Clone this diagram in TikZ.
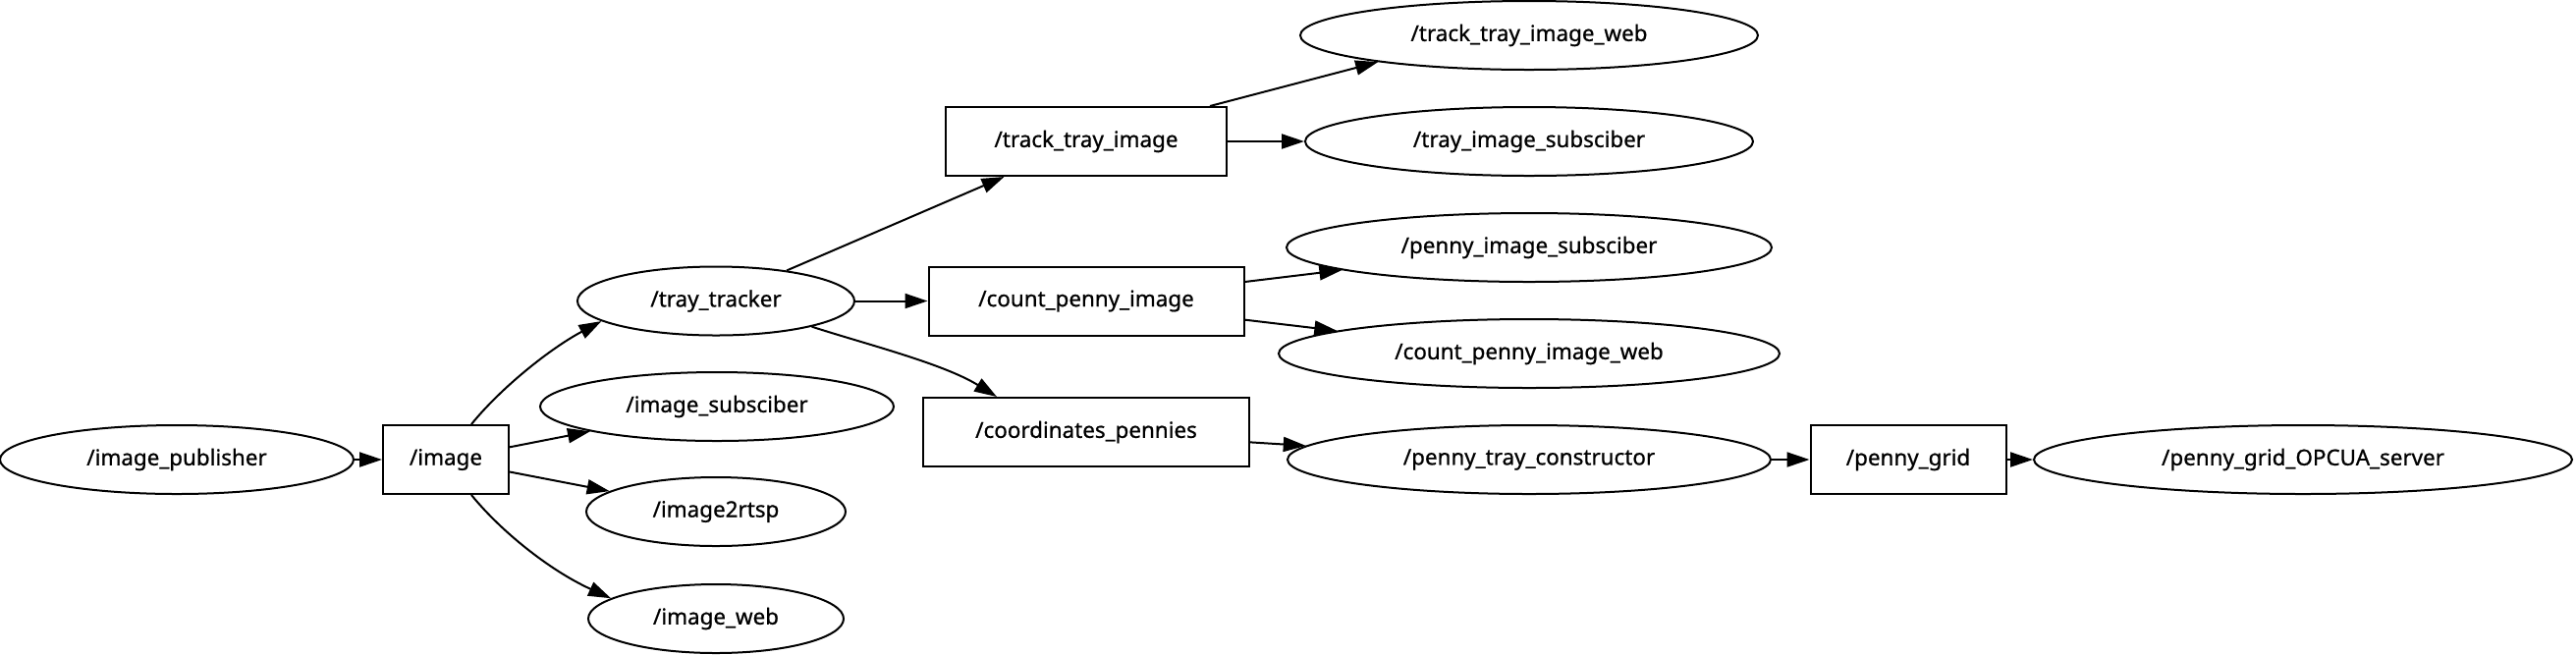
\documentclass[tikz,border=0pt]{standalone}
\usepackage{fontspec}
\setmainfont[FakeBold=0.8]{Noto Sans}
\usetikzlibrary{shapes.geometric,arrows.meta}
\begin{document}
\begin{tikzpicture}[x=0.5pt,y=-0.5pt,
 every node/.style={font=\fontsize{11.2}{13}\selectfont\bfseries, draw, line width=1pt, inner sep=0pt, minimum height=35pt},
 ell/.style={ellipse},
 box/.style={rectangle},
 arr/.style={-{Triangle[length=11.5pt,width=7.5pt]}, line width=1pt}]
\useasboundingbox (0,0) rectangle (2623,666);
\node[ell, minimum width=180pt] (pub) at (180,468) {/image\_publisher};
\node[box, minimum width=64pt] (img) at (454,468) {/image};
\node[ell, minimum width=141pt] (tt) at (729,306.5) {/tray\_tracker};
\node[ell, minimum width=180pt] (isub) at (730,414) {/image\_subsciber};
\node[ell, minimum width=132pt] (rtsp) at (729,521) {/image2rtsp};
\node[ell, minimum width=130pt] (iweb) at (729,630) {/image\_web};
\node[box, minimum width=143pt] (tti) at (1106,144) {/track\_tray\_image};
\node[box, minimum width=160.5pt] (cpi) at (1106,306.5) {/count\_penny\_image};
\node[box, minimum width=166pt] (cp) at (1106,440) {/coordinates\_pennies};
\node[ell, minimum width=233pt] (ttweb) at (1557,36) {/track\_tray\_image\_web};
\node[ell, minimum width=228pt] (tisub) at (1557,144) {/tray\_image\_subsciber};
\node[ell, minimum width=247pt] (pisub) at (1557,252) {/penny\_image\_subsciber};
\node[ell, minimum width=255pt] (cpweb) at (1557,360) {/count\_penny\_image\_web};
\node[ell, minimum width=246pt] (ptc) at (1557,468) {/penny\_tray\_constructor};
\node[box, minimum width=99.5pt] (pg) at (1943,468) {/penny\_grid};
\node[ell, minimum width=274pt] (opc) at (2345,468) {/penny\_grid\_OPCUA\_server};
\draw[arr] (pub) -- (img);
\draw[arr] ([xshift=13pt]img.north) .. controls (510,395) and (560,355) .. (tt.190);
\draw[arr] (img) -- (isub);
\draw[arr] (img) -- (rtsp);
\draw[arr] ([xshift=13pt]img.south) .. controls (510,541) and (560,581) .. (iweb.169);
\draw[arr] (tt) -- (tti);
\draw[arr] (tt) -- (cpi);
\draw[arr] (tt.-15) .. controls (880,350) and (960,370) .. ([xshift=-45.5pt]cp.north);
\draw[arr] ([xshift=63pt]tti.north) -- (ttweb.190);
\draw[arr] (tti) -- (tisub);
\draw[arr] (cpi) -- (pisub);
\draw[arr] (cpi) -- (cpweb);
\draw[arr] (cp) -- (ptc);
\draw[arr] (ptc) -- (pg);
\draw[arr] (pg) -- (opc);
\end{tikzpicture}
\end{document}
